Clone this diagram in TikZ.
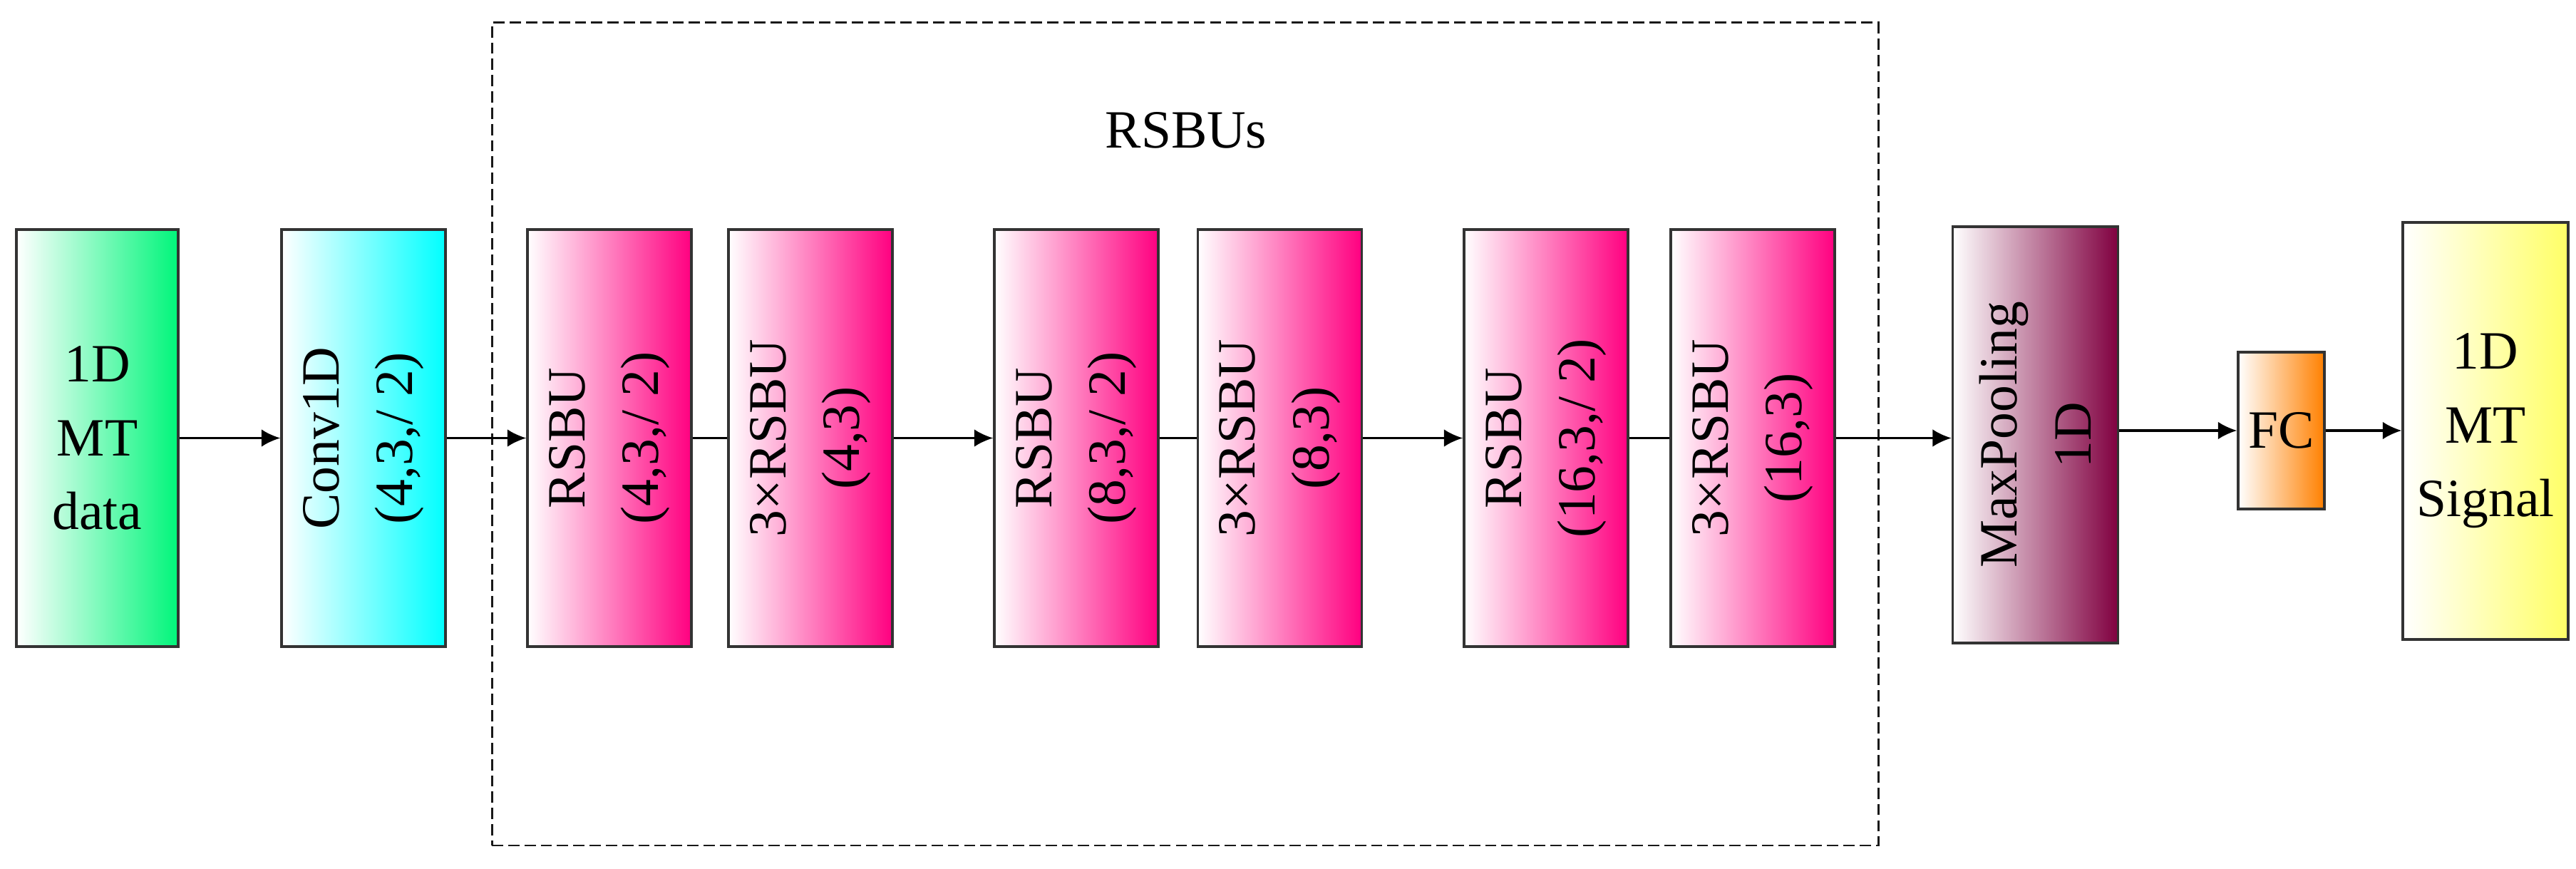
\documentclass[tikz,border=0pt]{standalone}
\usepackage{fontspec}
\setmainfont{Liberation Serif}
\usetikzlibrary{arrows.meta}
\definecolor{edge}{HTML}{333333}
\definecolor{leaf}{HTML}{00F57A}
\definecolor{aqua}{HTML}{00FFFF}
\definecolor{rose}{HTML}{FF0080}
\definecolor{wine}{HTML}{800040}
\definecolor{amber}{HTML}{FF8000}
\definecolor{lemon}{HTML}{FFFF66}
\tikzset{>={Latex[length=7.5pt,width=7pt]},blk/.style={draw=edge,line width=1pt,minimum width=2.3cm,minimum height=5.85cm,inner sep=0pt,left color=white},txt/.style={font=\fontsize{21.5}{29.5}\selectfont,align=center,inner sep=0pt},vtxt/.style={txt,rotate=90},arr/.style={->,line width=.9pt},link/.style={line width=.9pt},group/.style={draw=black!90,line width=.85pt,dash pattern=on 4.5pt off 2pt,minimum width=19.45cm,minimum height=11.54cm}}
\begin{document}
\begin{tikzpicture}
\useasboundingbox (0,0) rectangle (36.14,12.18);
\node[group] (rsbus) at (16.625,6.09) {};
\node[txt,anchor=base] (rsbus-t) at (16.64,10.10) {RSBUs};
\node[blk,right color=leaf,minimum width=2.27cm] (data) at (1.365,6.035) {};
\node[txt] (data-t) at (data) {1D\\MT\\data};
\node[blk,right color=aqua] (conv) at (5.10,6.035) {};
\node[vtxt] (conv-t) at (conv) {Conv1D\\(4,3,/ 2)};
\foreach \nm/\x/\tx in {r1/8.55/{RSBU\\(4,3,/ 2)},r1b/11.37/{3×RSBU\\(4,3)},r2/15.10/{RSBU\\(8,3,/ 2)},r2b/17.955/{3×RSBU\\(8,3)},r3/21.69/{RSBU\\(16,3,/ 2)},r3b/24.59/{3×RSBU\\(16,3)}}{
\node[blk,right color=rose] (\nm) at (\x,6.035) {};
\node[vtxt] (\nm-t) at (\nm) {\tx};}
\node[blk,right color=wine,minimum width=2.32cm,minimum height=5.84cm] (pool) at (28.555,6.08) {};
\node[vtxt] (pool-t) at (pool) {MaxPooling\\1D};
\node[blk,right color=amber,minimum width=1.21cm,minimum height=2.2cm] (fc) at (32.005,6.14) {};
\node[txt] (fc-t) at (fc) {FC};
\node[blk,right color=lemon,minimum width=2.32cm] (sig) at (34.87,6.135) {};
\node[txt] (sig-t) at (sig) {1D\\MT\\Signal};
\draw[arr] (data.east) -- (conv.west);
\draw[arr] (conv.east) -- (r1.west);
\draw[link] (r1.east) -- (r1b.west);
\draw[arr] (r1b.east) -- (r2.west);
\draw[link] (r2.east) -- (r2b.west);
\draw[arr] (r2b.east) -- (r3.west);
\draw[link] (r3.east) -- (r3b.west);
\draw[arr] (r3b.east) -- (r3b.east -| pool.west);
\draw[arr] (pool.east |- fc.west) -- (fc.west);
\draw[arr] (fc.east) -- (fc.east -| sig.west);
\end{tikzpicture}
\end{document}
